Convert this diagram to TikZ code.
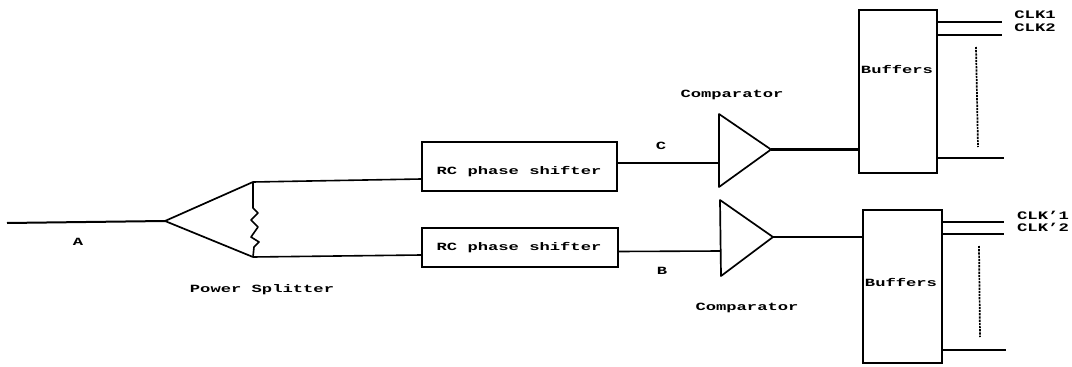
\documentclass[tikz,border=0pt]{standalone}
\usepackage{fontspec}
\setmainfont{Liberation Mono}[BoldFont={Liberation Mono Bold}]
\tikzset{
  wire/.style={draw=black,line width=1.6pt},
  heavy wire/.style={draw=black,line width=2pt},
  thick wire/.style={draw=black,line width=2.8pt},
  block/.style={draw=black,line width=1.7pt,fill=white,inner sep=0pt},
  tri/.style={draw=black,line width=1.7pt,line join=round},
  lbl/.style={font=\bfseries\fontsize{11}{11}\selectfont,xscale=1.56,inner sep=0pt,anchor=center},
  clk/.style={font=\bfseries\fontsize{11.5}{11.5}\selectfont,xscale=1.5,inner sep=0pt,anchor=center},
  dots/.style={draw=black,line width=1.7pt,dash pattern=on 2.2pt off 1pt}
}
\begin{document}
\begin{tikzpicture}[x=1pt,y=-1pt]
\useasboundingbox[fill=white] (0,0) rectangle (1072,367);
% coordinates
\coordinate (inA) at (7,223);
\coordinate (tip) at (165,221);
\coordinate (st) at (253,182);
\coordinate (sb) at (253,257);
\coordinate (r1) at (253,208);
\coordinate (r2) at (254,247);
% boxes
\node[block,minimum width=195pt,minimum height=49pt] (rc1) at (519.5,166.5) {};
\node[block,minimum width=196pt,minimum height=39pt] (rc2) at (520,247.5) {};
\node[block,minimum width=78pt,minimum height=163pt] (buf1) at (898,91.5) {};
\node[block,minimum width=79pt,minimum height=153pt] (buf2) at (902.5,286.5) {};
% triangles
\coordinate (c1a) at (719,114);
\coordinate (c1b) at (719,187);
\coordinate (c1t) at (771,149.5);
\coordinate (c2a) at (720,200);
\coordinate (c2b) at (721,276);
\coordinate (c2t) at (773,237);
\draw[tri] (c1a) -- (c1t) -- (c1b) -- cycle;
\draw[tri] (c2a) -- (c2t) -- (c2b) -- cycle;
\draw[tri] (sb) -- (tip) -- (st);
% wires
\draw[heavy wire] (inA) -- (tip);
\draw[wire] (st) -- (rc1.west |- 0,179);
\draw[wire] (sb) -- (rc2.west |- 0,255);
\draw[wire] (rc1.east |- 0,163) -- (c1a |- 0,163);
\draw[wire] (rc2.east |- 0,251.5) -- (c2a |- 0,251);
\draw[thick wire] (c1t) -- (buf1.west |- c1t);
\draw[wire] (c2t) -- (buf2.west |- c2t);
% resistor
\draw[wire,line join=round] (st) -- (r1) -- (258,213) -- (251,220) -- (258,227) -- (251,237) -- (259,242) -- (r2) -- (sb);
% outputs
\coordinate (o1) at (1002,22);
\coordinate (o2) at (1002,35);
\coordinate (o3) at (1004,158);
\coordinate (o4) at (1004,222);
\coordinate (o5) at (1004,233.5);
\coordinate (o6) at (1006,350);
\draw[heavy wire] (buf1.east |- o1) -- (o1);
\draw[wire] (buf1.east |- o2) -- (o2);
\draw[wire] (buf1.east |- o3) -- (o3);
\draw[heavy wire] (buf2.east |- o4) -- (o4);
\draw[heavy wire] (buf2.east |- o5) -- (o5);
\draw[wire] (buf2.east |- o6) -- (o6);
% dotted
\coordinate (d1) at (976,47);
\coordinate (d2) at (978,147);
\coordinate (d3) at (979,246);
\coordinate (d4) at (980,337);
\draw[dots] (d1) -- (d2);
\draw[dots] (d3) -- (d4);
% labels
\node[lbl] (la) at (78,242) {A};
\node[lbl] (lp) at (262,290) {Power Splitter};
\node[lbl] (t1) at (519,172) {RC phase shifter};
\node[lbl] (t2) at (519,248) {RC phase shifter};
\node[lbl] (lc) at (661,146) {C};
\node[lbl] (lb) at (662,271) {B};
\node[lbl] (k1) at (732,95) {Comparator};
\node[lbl] (k2) at (747,308) {Comparator};
\node[lbl] (b1) at (897,69) {Buffers};
\node[lbl] (b2) at (901,282) {Buffers};
\node[clk] (c1) at (1035,15) {CLK1};
\node[clk] (c2) at (1035,28) {CLK2};
\node[clk] (c3) at (1043,215) {CLK'1};
\node[clk] (c4) at (1043,227) {CLK'2};
\end{tikzpicture}
\end{document}
